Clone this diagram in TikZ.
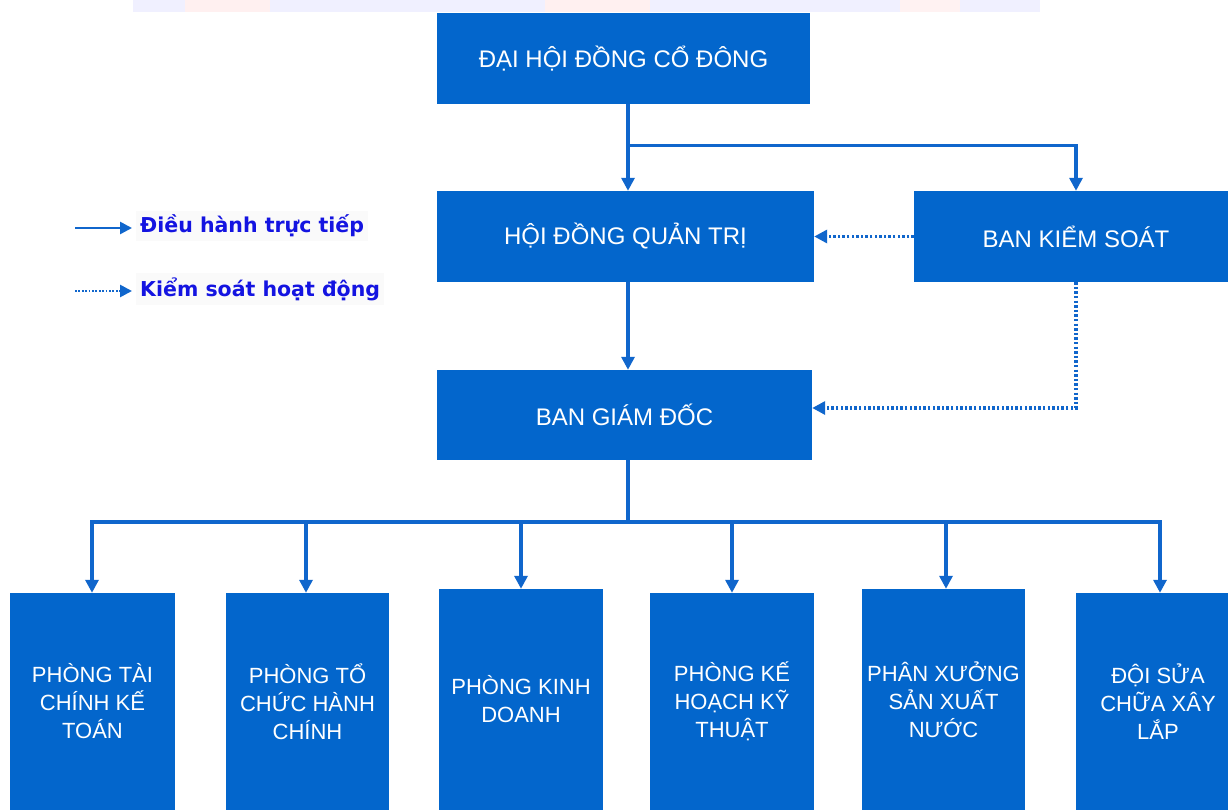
\documentclass[tikz,border=0pt]{standalone}
\usepackage{fontspec}
\setmainfont{Liberation Sans}
\newfontfamily\legfont{DejaVu Sans}
\usetikzlibrary{arrows.meta,calc}
\definecolor{boxblue}{RGB}{3,102,204}
\definecolor{lineblue}{RGB}{16,102,204}
\definecolor{legblue}{RGB}{20,20,225}
\tikzset{
  orgbox/.style={fill=boxblue, text=white, inner sep=0pt, align=center,
    font=\fontsize{22}{28}\selectfont},
  topbox/.style={orgbox, font=\fontsize{24}{28}\selectfont},
  arr/.style={draw=lineblue, line width=3.2pt,
    -{Triangle[length=13pt,width=13pt]}},
  darr/.style={draw=lineblue, line width=3.2pt, dash pattern=on 2.4pt off 2.2pt,
    -{Triangle[length=13pt,width=13pt]}},
  legtext/.style={anchor=west, text=legblue, inner sep=4pt, fill=black!2,
    font=\legfont\bfseries\fontsize{20.5}{24}\selectfont},
}
\begin{document}
\begin{tikzpicture}[x=1pt,y=-1pt]
\useasboundingbox (0,0) rectangle (1228,810);
\fill[white] (0,0) rectangle (1228,810);
% faint watermark band at top
\fill[blue!6] (133,0) rectangle (1040,12);
\fill[red!6] (185,0) rectangle (270,12);
\fill[red!6] (545,0) rectangle (650,12);
\fill[red!5] (900,0) rectangle (960,12);

\node[topbox, minimum width=373pt, minimum height=91pt] (dh) at (623.5,58.5) {ĐẠI HỘI ĐỒNG CỔ ĐÔNG};
\node[topbox, minimum width=377pt, minimum height=91pt] (hd) at (625.5,236.5) {HỘI ĐỒNG QUẢN TRỊ};
\node[topbox, minimum width=324pt, minimum height=91pt] (bks) at (1076,236.5) {BAN KIỂM SOÁT};
\node[topbox, minimum width=375pt, minimum height=90pt] (bgd) at (624.5,415) {BAN GIÁM ĐỐC};

\node[orgbox, minimum width=165pt, minimum height=217pt] (p1) at (92.5,701.5) {PHÒNG TÀI\\CHÍNH KẾ\\TOÁN};
\node[orgbox, minimum width=163pt, minimum height=217pt] (p2) at (307.5,701.5) {PHÒNG TỔ\\CHỨC HÀNH\\CHÍNH};
\node[orgbox, minimum width=164pt, minimum height=221pt] (p3) at (521,699.5) {PHÒNG KINH\\DOANH};
\node[orgbox, minimum width=164pt, minimum height=217pt] (p4) at (732,701.5) {PHÒNG KẾ\\HOẠCH KỸ\\THUẬT};
\node[orgbox, minimum width=163pt, minimum height=221pt] (p5) at (943.5,699.5) {PHÂN XƯỞNG\\SẢN XUẤT\\NƯỚC};
\node[orgbox, minimum width=164pt, minimum height=217pt] (p6) at (1158,701.5) {ĐỘI SỬA\\CHỮA XÂY\\LẮP};

% connectors
\draw[arr] (dh.south -| 628,0) -- (hd.north -| 628,0);
\draw[arr] ([yshift=-41pt]dh.south -| 628,0) -| (bks.north);
\draw[arr] (hd.south -| 628,0) -- (bgd.north -| 628,0);
\draw[darr] (bks.west) -- (hd.east);
\draw[darr] (bks.south) |- ([yshift=7pt]bgd.east);
\coordinate (bus) at (628,522);
\draw[draw=lineblue, line width=3.2pt] (bgd.south -| bus) -- (bus);
\foreach \p/\x in {p1/92,p2/306,p3/521,p4/732,p5/946,p6/1160}{
  \draw[arr] (bus) -| (\p.north -| \x,0);
}

% legend
\coordinate (l1a) at (75,228);
\coordinate (l1b) at (132,228);
\coordinate (l2a) at (75,291);
\coordinate (l2b) at (132,291);
\draw[arr, line width=2.6pt, -{Triangle[length=12pt,width=12pt]}] (l1a) -- (l1b);
\draw[darr, line width=2.6pt, dash pattern=on 1.8pt off 1.6pt, -{Triangle[length=12pt,width=12pt]}] (l2a) -- (l2b);
\node[legtext] (lg1) at (136,226) {Điều hành trực tiếp};
\node[legtext] (lg2) at (136,289) {Kiểm soát hoạt động};
\end{tikzpicture}
\end{document}
